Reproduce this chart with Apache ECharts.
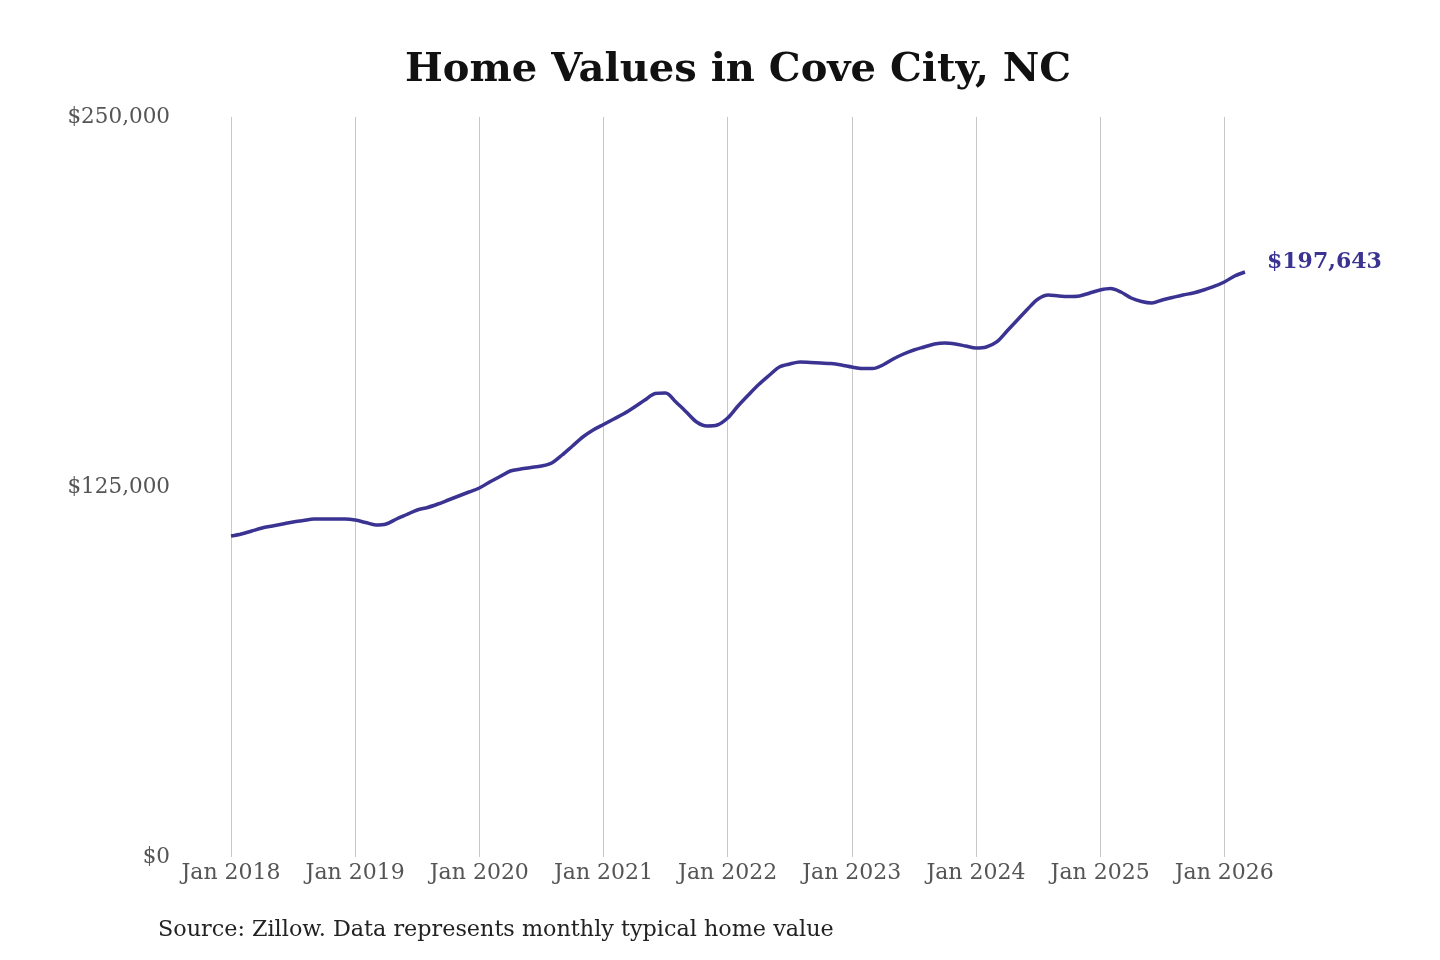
<!DOCTYPE html>
<html>
<head>
<meta charset="utf-8">
<script src="https://cdn.jsdelivr.net/npm/echarts@6/dist/echarts.min.js"></script>
<style>html,body{margin:0;padding:0;background:#fff;}#chart{width:1440px;height:960px;}</style>
</head>
<body>
<div id="chart"></div>
<script>
const titleText = 'Home Values in Cove City, NC';
const sourceText = 'Source: Zillow. Data represents monthly typical home value';
const years = [2018, 2019, 2020, 2021, 2022, 2023, 2024, 2025, 2026];
const monthNames = ['Jan','Feb','Mar','Apr','May','Jun','Jul','Aug','Sep','Oct','Nov','Dec'];
const yTicks = [0, 125000, 250000];
const values = [
  108450, 109120, 110140, 111150, 111830, 112500, 113180, 113680, 114190, 114190, 114190, 114190,
  113850, 113010, 112160, 112500, 114190, 115710, 117230, 118080, 119260, 120610, 121960, 123310,
  124660, 126690, 128550, 130410, 131080, 131590, 132100, 133110, 135810, 138850, 141890, 144260,
  146120, 147970, 149830, 152030, 154390, 156590, 156760, 153720, 150340, 146960, 145610, 145950,
  148310, 152370, 156080, 159630, 162670, 165540, 166560, 167230, 167060, 166890, 166720, 166220,
  165540, 165040, 165040, 166220, 168240, 169930, 171290, 172300, 173310, 173650, 173310, 172640,
  171960, 172300, 173990, 177700, 181420, 185140, 188520, 189870, 189530, 189360, 189530, 190540,
  191560, 192060, 190880, 188850, 187670, 187160, 188180, 189020, 189870, 190540, 191560, 192740,
  194260, 196290, 197643
];
const categories = values.map((v, i) => monthNames[i % 12] + ' ' + (years[0] + Math.floor(i / 12)));
const lineColor = '#3b3392';
const serif = 'DejaVu Serif';

const chart = echarts.init(document.getElementById('chart'));
chart.setOption({
  backgroundColor: '#fff',
  animation: false,
  title: {
    text: titleText,
    left: 400,
    top: 46,
    textStyle: { fontFamily: serif, fontWeight: 'bold', fontSize: 40, color: '#111' }
  },
  graphic: [{
    type: 'text',
    left: 158,
    top: 919,
    style: { text: sourceText, font: '22.3px "DejaVu Serif"', fill: '#222' }
  }],
  grid: { left: 231, right: 195, top: 117, bottom: 103, containLabel: false },
  xAxis: {
    type: 'category',
    data: categories,
    boundaryGap: false,
    axisLine: { show: false },
    axisTick: { show: false, interval: (i) => i % 12 === 0 },
    axisLabel: {
      interval: (i) => i % 12 === 0,
      margin: 5,
      fontFamily: serif,
      fontSize: 22,
      color: '#555'
    },
    splitLine: {
      show: true,
      interval: (i) => i % 12 === 0,
      lineStyle: { color: '#c8c8c8', width: 1 }
    }
  },
  yAxis: {
    type: 'value',
    min: yTicks[0],
    max: yTicks[yTicks.length - 1],
    interval: yTicks[1] - yTicks[0],
    axisLine: { show: false },
    axisTick: { show: false },
    splitLine: { show: false },
    axisLabel: {
      margin: 61,
      fontFamily: serif,
      fontSize: 21.5,
      color: '#555',
      formatter: (v) => '$' + v.toLocaleString('en-US')
    }
  },
  series: [{
    type: 'line',
    data: values,
    smooth: 0.3,
    showSymbol: false,
    lineStyle: { color: lineColor, width: 3.5 },
    endLabel: {
      show: true,
      formatter: (p) => '$' + p.value.toLocaleString('en-US'),
      fontFamily: serif,
      fontWeight: 'bold',
      fontSize: 22,
      color: lineColor,
      distance: 22,
      offset: [0, -10]
    }
  }]
});
</script>
</body>
</html>
